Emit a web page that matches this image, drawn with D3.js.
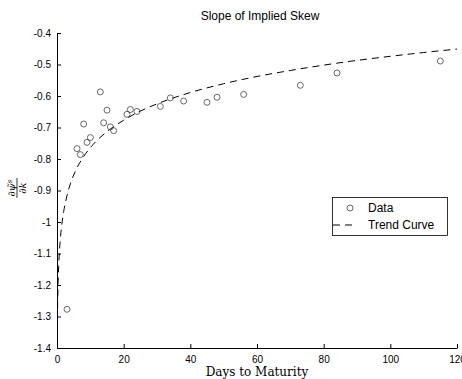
<!DOCTYPE html>
<html><head><meta charset="utf-8">
<script src="https://cdn.jsdelivr.net/npm/d3@7"></script>
<style>body{margin:0;background:#fff}svg{display:block}</style>
</head><body>
<svg id="c" width="462" height="379"></svg>
<script>
const dataDays = [3, 6, 7, 8, 9, 10, 13, 14, 15, 16, 17, 21, 22, 24, 31, 34, 38, 45, 48, 56, 73, 84, 115];
const dataValues = [-1.277, -0.767, -0.786, -0.689, -0.747, -0.732, -0.587, -0.685, -0.645, -0.698, -0.710, -0.658, -0.643, -0.649, -0.633, -0.606, -0.616, -0.620, -0.604, -0.595, -0.566, -0.527, -0.489];
const trendDays = [0.07, 0.1, 0.2, 0.3, 0.5, 0.75, 1, 1.5, 2, 3, 4, 5, 6, 8, 10, 12, 15, 20, 25, 30, 40, 50, 60, 70, 80, 90, 100, 110, 120];
const trendValues = [-1.389, -1.344, -1.257, -1.206, -1.141, -1.090, -1.054, -1.003, -0.967, -0.916, -0.879, -0.851, -0.828, -0.792, -0.764, -0.741, -0.713, -0.677, -0.648, -0.625, -0.589, -0.561, -0.538, -0.519, -0.502, -0.487, -0.474, -0.462, -0.451];
const xTicks = [0, 20, 40, 60, 80, 100, 120];
const yTicks = [-0.4, -0.5, -0.6, -0.7, -0.8, -0.9, -1, -1.1, -1.2, -1.3, -1.4];
const title = "Slope of Implied Skew";
const xLabel = "Days to Maturity";
const legendLabels = ["Data", "Trend Curve"];

const svg = d3.select("#c");
const L = 57, R = 457, T = 33, B = 348;
const x = d3.scaleLinear().domain([0, 120]).range([L, R]);
const y = d3.scaleLinear().domain([-1.4, -0.4]).range([B, T]);

const fmt = d => String(d);
const xa = svg.append("g").attr("transform", `translate(0,${B})`)
  .call(d3.axisBottom(x).tickValues(xTicks).tickFormat(fmt).tickSizeInner(-4).tickSizeOuter(0).tickPadding(8));
const ya = svg.append("g").attr("transform", `translate(${L},0)`)
  .call(d3.axisLeft(y).tickValues(yTicks).tickFormat(fmt).tickSizeInner(-4).tickSizeOuter(0).tickPadding(6));
[xa, ya].forEach(a => {
  a.selectAll("path").attr("stroke", "#000").attr("stroke-width", 1);
  a.selectAll("line").attr("stroke", "#000");
  a.selectAll("text").attr("font-family", "Liberation Sans, Arial, sans-serif").attr("font-size", 10).attr("fill", "#000");
});

svg.append("defs").append("clipPath").attr("id", "clip")
  .append("rect").attr("x", L).attr("y", T).attr("width", R - L).attr("height", B - T);

const line = d3.line().x((d, i) => x(trendDays[i])).y((d, i) => y(trendValues[i])).curve(d3.curveMonotoneX);
svg.append("path").datum(trendValues).attr("d", line)
  .attr("clip-path", "url(#clip)")
  .attr("fill", "none").attr("stroke", "#000").attr("stroke-width", 1)
  .attr("stroke-dasharray", "7,5");

svg.append("g").selectAll("circle").data(dataValues).join("circle")
  .attr("cx", (d, i) => x(dataDays[i])).attr("cy", d => y(d)).attr("r", 3)
  .attr("fill", "none").attr("stroke", "#444").attr("stroke-width", 0.8);

svg.append("text").attr("x", 260).attr("y", 20).attr("text-anchor", "middle")
  .attr("font-family", "Liberation Sans, Arial, sans-serif").attr("font-size", 12).text(title);

svg.append("text").attr("x", 257).attr("y", 376).attr("text-anchor", "middle")
  .attr("font-family", "DejaVu Serif, serif").attr("font-size", 12).text(xLabel);

// y label: rotated fraction
const yl = svg.append("g").attr("transform", "translate(17,188) rotate(-90)");
yl.append("text").attr("x", 0).attr("y", -2).attr("text-anchor", "middle")
  .attr("font-family", "DejaVu Serif, serif").attr("font-style", "italic").attr("font-size", 10)
  .html("∂ψ̃<tspan font-size='7' dy='-3'>s</tspan>");
yl.append("line").attr("x1", -10).attr("x2", 10).attr("y1", 0).attr("y2", 0).attr("stroke", "#000").attr("stroke-width", 0.8);
yl.append("text").attr("x", 0).attr("y", 9).attr("text-anchor", "middle")
  .attr("font-family", "DejaVu Serif, serif").attr("font-style", "italic").attr("font-size", 10).text("∂k");

// legend
const lg = svg.append("g");
lg.append("rect").attr("x", 332.5).attr("y", 197.5).attr("width", 115).attr("height", 38)
  .attr("fill", "#fff").attr("stroke", "#000").attr("stroke-width", 0.8);
lg.append("circle").attr("cx", 350).attr("cy", 208).attr("r", 3)
  .attr("fill", "none").attr("stroke", "#444").attr("stroke-width", 0.8);
lg.append("line").attr("x1", 333).attr("x2", 356).attr("y1", 225).attr("y2", 225)
  .attr("stroke", "#000").attr("stroke-dasharray", "7,5");
legendLabels.forEach((t, i) => {
  lg.append("text").attr("x", 368).attr("y", 212 + i * 17)
    .attr("font-family", "Liberation Sans, Arial, sans-serif").attr("font-size", 12).text(t);
});
</script>
</body></html>
